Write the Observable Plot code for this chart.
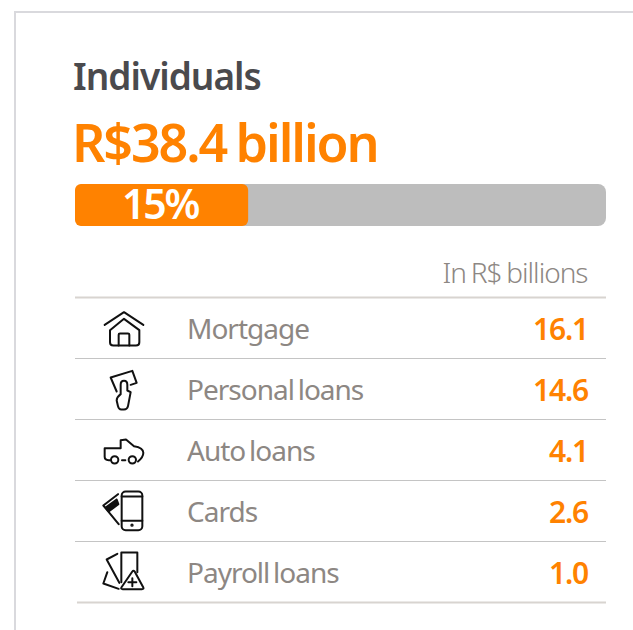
<!DOCTYPE html>
<html>
<head>
<meta charset="utf-8">
<script src="https://cdn.jsdelivr.net/npm/d3@7"></script>
<script src="https://cdn.jsdelivr.net/npm/@observablehq/plot@0.6"></script>
<style>
  html, body { margin: 0; padding: 0; background: #fff; overflow: hidden; }
  #page { position: relative; width: 633px; height: 630px; overflow: hidden; font-family: "Noto Sans", sans-serif; }
  #frame { position: absolute; left: 14px; top: 11px; width: 700px; height: 700px; border-left: 2px solid #d9d9dd; border-top: 2px solid #d9d9dd; }
  #head { position: relative; height: 160px; }
  #t1 { position: absolute; left: 73px; top: 51px; font-size: 37px; font-weight: 600; color: #4a4a4d; letter-spacing: -1px; line-height: 50px; white-space: nowrap; }
  #t2 { position: absolute; left: 72px; top: 107px; font-size: 52px; font-weight: 600; color: #ff8200; letter-spacing: -2.1px; word-spacing: -2px; line-height: 70px; white-space: nowrap; }
  svg { display: block; position: relative; }
</style>
</head>
<body>
<div id="page">
  <div id="frame"></div>
  <div id="head">
    <div id="t1"></div>
    <div id="t2"></div>
  </div>
</div>
<script>
const title = "Individuals";
const total = "R$38.4 billion";
const categories = ["Mortgage", "Personal loans", "Auto loans", "Cards", "Payroll loans"];
const values = [16.1, 14.6, 4.1, 2.6, 1.0];
const valueLabels = ["16.1", "14.6", "4.1", "2.6", "1.0"];
const share = 15;
const shareLabel = "15%";
const trackEnd = 46;
const unitLabel = "In R$ billions";

document.getElementById("t1").textContent = title;
document.getElementById("t2").textContent = total;

const ORANGE = "#ff8200", TRACK = "#bdbdbd", GREY = "#8d8783";

function icon(viewBox, body) {
  const svg = `<svg xmlns="http://www.w3.org/2000/svg" viewBox="${viewBox}" width="48" height="48"><g fill="none" stroke="#111" stroke-width="6" stroke-linejoin="round" stroke-linecap="round">${body}</g></svg>`;
  return "data:image/svg+xml," + encodeURIComponent(svg);
}
const icons = [
  icon("58 25.5 144 144", `<path d="M72 88L130 50L188 88"/><path d="M88 104V140Q88 150 98 150H166Q176 150 176 140V104L130 70Z"/><path d="M114 150V118Q114 114 118 114H142Q146 114 146 118V150"/>`),
  icon("58 208.5 144 144", `<path d="M108 288L90 246L155 226L168 262L150 268"/><path d="M120 296V268Q120 256 130 256Q140 256 140 268V285L150 290L142 332Q140 342 130 342H122Q114 342 112 332L108 315Q108 305 120 296Z"/>`),
  icon("58 1.5 144 144", `<path d="M88 104H84Q72 104 72 94V68H120V44L136 42L160 62Q188 66 188 82Q188 95 172 108"/><circle cx="102" cy="103" r="11"/><circle cx="155" cy="103" r="11"/><path d="M124 104H134"/>`),
  icon("58 184.5 144 144", `<rect x="123" y="198" width="62" height="116" rx="12"/><path d="M123 213H185M123 286H185"/><circle cx="154" cy="299" r="2" fill="#111"/><path d="M112 206L68 240L114 296"/><path d="M108 222L75 246L84 258L113 236Z" fill="#111"/>`),
  icon("58 367.5 144 144", `<path d="M122 470V381H170V440"/><path d="M110 385L78 402L116 472"/><path d="M80 440L68 474L114 490"/><path d="M155 438L122 486Q120 491 126 491H184Q190 491 188 486L162 438Q158 434 155 438Z"/><path d="M155 458V482M143 470H167"/>`)
];

const rows = categories.map((name, i) => ({name, value: values[i], label: valueLabels[i], icon: icons[i]}));
const font = {fontFamily: "'Noto Sans', sans-serif"};

// Tighter tracking than the installed font's default, closer to the reference's narrow typeface.
const tracking = (letter, word = 0) => (index, scales, values, dimensions, context, next) => {
  const g = next(index, scales, values, dimensions, context);
  g.style.letterSpacing = `${letter}px`;
  g.style.wordSpacing = `${word}px`;
  return g;
};

const chart = Plot.plot({
  width: 633,
  height: 470,
  margin: 0,
  style: {background: "transparent", overflow: "visible"},
  x: {type: "linear", domain: [0, trackEnd], range: [75, 606], axis: null},
  y: {type: "band", domain: ["share", "unit", ...categories], range: [15, 442], padding: 0, axis: null},
  marks: [
    Plot.barX([trackEnd], {x1: 0, x2: d => d, y: () => "share", fill: TRACK, rx: 8, insetTop: 9, insetBottom: 10}),
    Plot.barX([share], {x1: 0, x2: d => d, y: () => "share", fill: ORANGE, rx: 6, insetTop: 9, insetBottom: 10}),
    Plot.text([shareLabel], {x: () => share / 2, y: () => "share", text: d => d, fill: "#fff", fontSize: 41, fontWeight: 600, textAnchor: "middle", ...font, dx: -2, render: tracking(-2.2)}),
    Plot.text([unitLabel], {x: () => trackEnd, y: () => "unit", text: d => d, fill: GREY, fontSize: 28, fontWeight: 300, textAnchor: "end", dx: -19, dy: 7, ...font, render: tracking(-1, -1.5)}),
    Plot.ruleY(["Mortgage"], {x1: 0, x2: trackEnd, stroke: "#d8d4d0", strokeWidth: 2, dy: -30.5}),
    Plot.ruleY(categories.slice(0, -1), {x1: 0, x2: trackEnd, stroke: "#c4c4c4", strokeWidth: 1, dy: 30.5}),
    Plot.ruleY(categories.slice(-1), {x1: 0.17, x2: trackEnd, stroke: "#d8d4d0", strokeWidth: 2, dy: 30.5}),
    Plot.image(rows, {x: () => 0, y: "name", src: "icon", width: 48, height: 48, dx: 48.5}),
    Plot.text(rows, {x: () => 0, y: "name", text: "name", fill: GREY, fontSize: 28, fontWeight: 400, textAnchor: "start", dx: 111.5, dy: 2, ...font, render: tracking(-1, -2.5)}),
    Plot.text(rows, {x: () => trackEnd, y: "name", text: "label", fill: ORANGE, fontSize: 30, fontWeight: 600, textAnchor: "end", dx: -18.5, dy: 2, ...font, render: tracking(-1.2)})
  ]
});
document.getElementById("page").appendChild(chart);
</script>
</body>
</html>
